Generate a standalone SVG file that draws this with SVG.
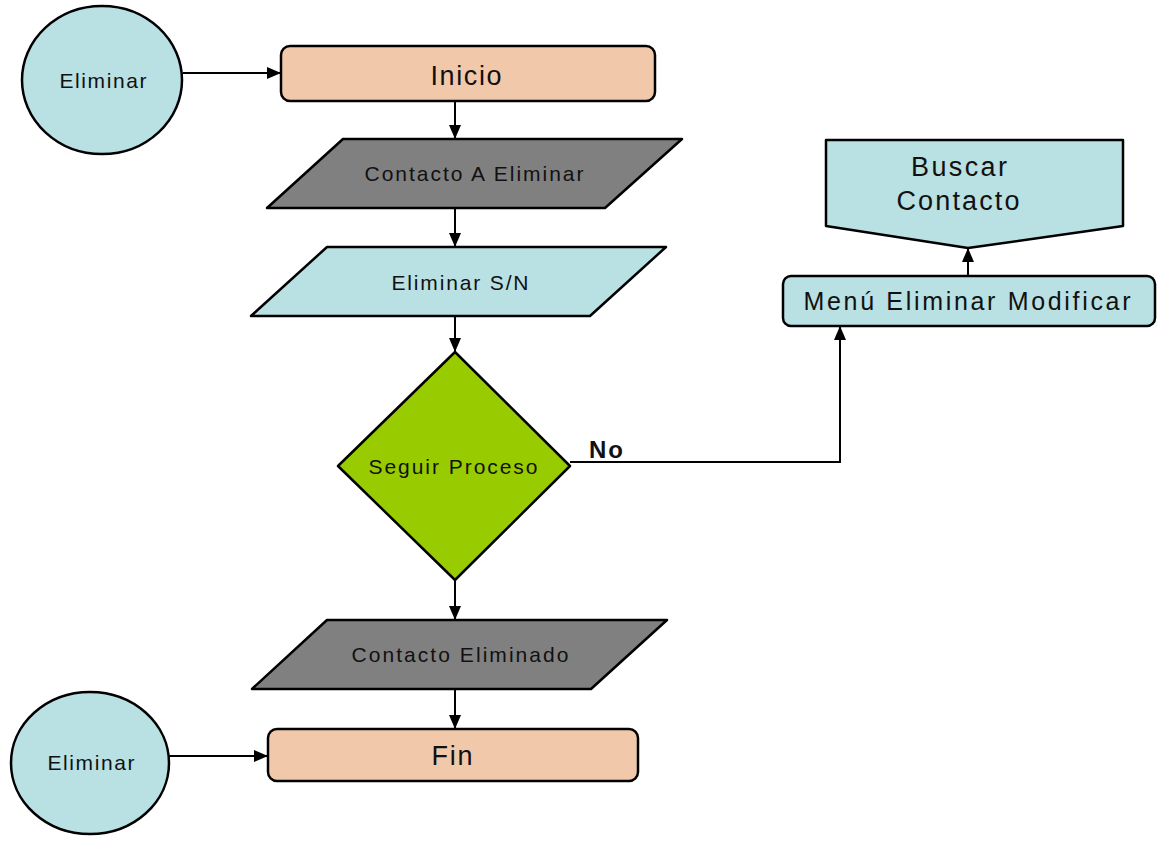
<svg xmlns="http://www.w3.org/2000/svg" width="1160" height="845" viewBox="0 0 1160 845">
  <style>
    .shape { stroke: #000; stroke-width: 2.5; stroke-linejoin: round; }
    .term { fill: #F2C8AA; }
    .blue { fill: #B9E0E3; }
    .gray { fill: #808080; }
    .decision { fill: #99CC00; }
    .edge { fill: none; stroke: #000; stroke-width: 2; }
    text { font-family: "Liberation Sans", Arial, sans-serif; fill: #111; text-anchor: middle; }
    .s21 { font-size: 21px; }
    .s25 { font-size: 25px; }
    .s27 { font-size: 27px; }
    .lbl { font-size: 24px; font-weight: bold; letter-spacing: 2px; }
  </style>
  <defs>
    <marker id="arrow" viewBox="0 0 14 12" refX="14" refY="6" markerWidth="14" markerHeight="12" markerUnits="userSpaceOnUse" orient="auto">
      <path d="M0,0 L14,6 L0,12 Z" fill="#000"/>
    </marker>
  </defs>

  <rect width="1160" height="845" fill="#fff"/>

  <g id="connectors">
    <line class="edge" x1="183" y1="73" x2="281" y2="73" marker-end="url(#arrow)"/>
    <line class="edge" x1="455" y1="101" x2="455" y2="139" marker-end="url(#arrow)"/>
    <line class="edge" x1="455" y1="208" x2="455" y2="247" marker-end="url(#arrow)"/>
    <line class="edge" x1="455" y1="316" x2="455" y2="352" marker-end="url(#arrow)"/>
    <line class="edge" x1="455" y1="580" x2="455" y2="620" marker-end="url(#arrow)"/>
    <line class="edge" x1="455" y1="689" x2="455" y2="729" marker-end="url(#arrow)"/>
    <line class="edge" x1="169" y1="756" x2="268" y2="756" marker-end="url(#arrow)"/>
    <polyline class="edge" points="570,462 840,462 840,326" marker-end="url(#arrow)"/>
    <line class="edge" x1="968" y1="276" x2="968" y2="248" marker-end="url(#arrow)"/>
    <text class="lbl" x="607" y="458">No</text>
  </g>

  <g id="start-connector">
    <ellipse class="shape blue" cx="102" cy="80" rx="80" ry="74"/>
    <text class="s21" x="103" y="88" textLength="87" lengthAdjust="spacing">Eliminar</text>
  </g>

  <g id="inicio">
    <rect class="shape term" x="281" y="46" width="374" height="55" rx="9"/>
    <text class="s27" x="466" y="85" textLength="71" lengthAdjust="spacing">Inicio</text>
  </g>

  <g id="contacto-a-eliminar">
    <polygon class="shape gray" points="343,139 682,139 605,208 267,208"/>
    <text class="s21" x="474" y="181" textLength="219" lengthAdjust="spacing">Contacto A Eliminar</text>
  </g>

  <g id="eliminar-sn">
    <polygon class="shape blue" points="327,247 666,247 590,316 251,316"/>
    <text class="s21" x="460" y="290" textLength="137" lengthAdjust="spacing">Eliminar S/N</text>
  </g>

  <g id="seguir-proceso">
    <polygon class="shape decision" points="455,352 570,466 455,580 338,466"/>
    <text class="s21" x="453" y="474" textLength="169" lengthAdjust="spacing">Seguir Proceso</text>
  </g>

  <g id="contacto-eliminado">
    <polygon class="shape gray" points="327,620 667,620 591,689 252,689"/>
    <text class="s21" x="460" y="662" textLength="217" lengthAdjust="spacing">Contacto Eliminado</text>
  </g>

  <g id="fin">
    <rect class="shape term" x="268" y="729" width="370" height="52" rx="9"/>
    <text class="s27" x="452" y="765" textLength="41" lengthAdjust="spacing">Fin</text>
  </g>

  <g id="end-connector">
    <ellipse class="shape blue" cx="90" cy="763" rx="79" ry="71"/>
    <text class="s21" x="91" y="770" textLength="87" lengthAdjust="spacing">Eliminar</text>
  </g>

  <g id="menu-eliminar-modificar">
    <rect class="shape blue" x="783" y="276" width="372" height="50" rx="8"/>
    <text class="s25" x="967" y="310" textLength="327" lengthAdjust="spacing">Menú Eliminar Modificar</text>
  </g>

  <g id="buscar-contacto">
    <polygon class="shape blue" points="826,140 1123,140 1123,226 968,248 826,226"/>
    <text class="s27" x="959" y="176" textLength="96" lengthAdjust="spacing">Buscar</text>
    <text class="s27" x="958" y="210" textLength="123" lengthAdjust="spacing">Contacto</text>
  </g>
</svg>
